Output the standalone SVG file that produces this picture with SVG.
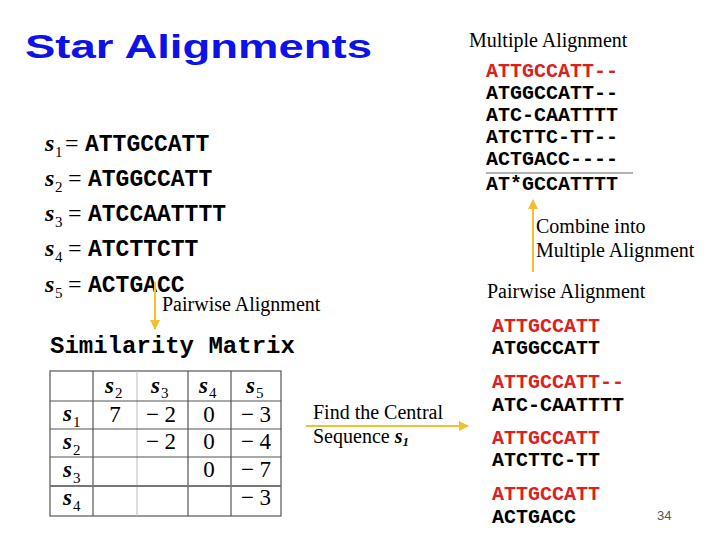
<svg xmlns="http://www.w3.org/2000/svg" width="720" height="540" viewBox="0 0 720 540">
<style>
.title{font-family:"Liberation Sans",Arial,sans-serif;font-weight:bold;fill:#0c12e8}
.ser{font-family:"Liberation Serif","Times New Roman",serif;fill:#000}
.lab{font-family:"Liberation Serif","Times New Roman",serif;font-size:20px;fill:#000}
.s{font-family:"Liberation Serif","Times New Roman",serif;font-weight:bold;font-style:italic;fill:#000}
.sub{font-family:"Liberation Serif","Times New Roman",serif;font-size:15px;fill:#000}
.mono{font-family:"Liberation Mono","Courier New",monospace;font-weight:bold;fill:#000}
.red{fill:#d9221f}
.val{font-family:"Liberation Serif","Times New Roman",serif;font-size:23px;text-anchor:middle;fill:#000}
.arr{stroke:#f0c030;stroke-width:2;fill:none}
.tb{stroke:#555;stroke-width:1.2;fill:none}
</style>
<defs>
<marker id="ah" viewBox="0 0 10 10" refX="9" refY="5" markerWidth="5" markerHeight="5" orient="auto" markerUnits="strokeWidth">
<path d="M0,0 L10,5 L0,10 z" fill="#f0c030"/>
</marker>
</defs>

<g id="title">
<text class="title" x="25" y="58" font-size="33" textLength="347" lengthAdjust="spacingAndGlyphs">Star Alignments</text>
</g>

<g id="sequences">
<text class="s" x="45" y="151" font-size="24">s</text><text class="sub" x="55" y="157">1</text><text class="ser" x="65" y="151" font-size="24">=</text><text class="mono" x="85" y="151" font-size="23">ATTGCCATT</text>
<text class="s" x="45" y="186" font-size="24">s</text><text class="sub" x="55" y="192">2</text><text class="ser" x="68" y="186" font-size="24">=</text><text class="mono" x="88" y="186" font-size="23">ATGGCCATT</text>
<text class="s" x="45" y="221" font-size="24">s</text><text class="sub" x="55" y="227">3</text><text class="ser" x="68" y="221" font-size="24">=</text><text class="mono" x="88" y="221" font-size="23">ATCCAATTTT</text>
<text class="s" x="45" y="256" font-size="24">s</text><text class="sub" x="55" y="262">4</text><text class="ser" x="68" y="256" font-size="24">=</text><text class="mono" x="88" y="256" font-size="23">ATCTTCTT</text>
<text class="s" x="45" y="292" font-size="24">s</text><text class="sub" x="55" y="298">5</text><text class="ser" x="68" y="292" font-size="24">=</text><text class="mono" x="88" y="292" font-size="23">ACTGACC</text>
</g>

<g id="multiple-alignment">
<text class="ser" x="469" y="47" font-size="20">Multiple Alignment</text>
<text class="mono red" x="486" y="77" font-size="20">ATTGCCATT--</text>
<text class="mono" x="486" y="99" font-size="20">ATGGCCATT--</text>
<text class="mono" x="486" y="121" font-size="20">ATC-CAATTTT</text>
<text class="mono" x="486" y="143" font-size="20">ATCTTC-TT--</text>
<text class="mono" x="486" y="165" font-size="20">ACTGACC----</text>
<line x1="486" y1="173" x2="633" y2="173" stroke="#666" stroke-width="1"/>
<text class="mono" x="486" y="190" font-size="20">AT*GCCATTTT</text>
</g>

<g id="similarity-matrix">
<text class="mono" x="50" y="353" font-size="24">Similarity Matrix</text>
<rect class="tb" x="50" y="371" width="231" height="145"/>
<line class="tb" x1="93" y1="371" x2="93" y2="516"/>
<line x1="137" y1="371" x2="137" y2="516" stroke="#bbb" stroke-width="1"/>
<line class="tb" x1="188" y1="371" x2="188" y2="516"/>
<line class="tb" x1="231" y1="371" x2="231" y2="516"/>
<line class="tb" x1="50" y1="401" x2="281" y2="401"/>
<line class="tb" x1="50" y1="429" x2="281" y2="429"/>
<line class="tb" x1="50" y1="457" x2="281" y2="457"/>
<line x1="50" y1="486" x2="281" y2="486" stroke="#777" stroke-width="2"/>
<text class="s" x="105" y="393" font-size="23">s</text><text class="sub" x="115" y="398">2</text>
<text class="s" x="151" y="393" font-size="23">s</text><text class="sub" x="161" y="398">3</text>
<text class="s" x="199" y="393" font-size="23">s</text><text class="sub" x="209" y="398">4</text>
<text class="s" x="246" y="393" font-size="23">s</text><text class="sub" x="256" y="398">5</text>
<text class="s" x="63" y="421" font-size="23">s</text><text class="sub" x="73" y="427">1</text>
<text class="s" x="63" y="449" font-size="23">s</text><text class="sub" x="73" y="455">2</text>
<text class="s" x="63" y="477" font-size="23">s</text><text class="sub" x="73" y="483">3</text>
<text class="s" x="63" y="505" font-size="23">s</text><text class="sub" x="73" y="511">4</text>
<text class="val" x="115" y="422">7</text>
<text class="val" x="161" y="422">− 2</text>
<text class="val" x="209" y="422">0</text>
<text class="val" x="256" y="422">− 3</text>
<text class="val" x="161" y="449">− 2</text>
<text class="val" x="209" y="449">0</text>
<text class="val" x="256" y="449">− 4</text>
<text class="val" x="209" y="477">0</text>
<text class="val" x="256" y="477">− 7</text>
<text class="val" x="256" y="505">− 3</text>
</g>

<g id="pairwise-alignments">
<text class="ser" x="487" y="298" font-size="20">Pairwise Alignment</text>
<text class="mono red" x="492" y="332" font-size="20">ATTGCCATT</text>
<text class="mono" x="492" y="354" font-size="20">ATGGCCATT</text>
<text class="mono red" x="492" y="388" font-size="20">ATTGCCATT--</text>
<text class="mono" x="492" y="411" font-size="20">ATC-CAATTTT</text>
<text class="mono red" x="492" y="444" font-size="20">ATTGCCATT</text>
<text class="mono" x="492" y="466" font-size="20">ATCTTC-TT</text>
<text class="mono red" x="492" y="500" font-size="20">ATTGCCATT</text>
<text class="mono" x="492" y="523" font-size="20">ACTGACC</text>
</g>

<g id="connectors">
<line class="arr" x1="155" y1="282" x2="155" y2="329" marker-end="url(#ah)"/>
<text class="lab" x="162" y="311">Pairwise Alignment</text>
<line class="arr" x1="533" y1="272" x2="533" y2="200" marker-end="url(#ah)"/>
<text class="lab" x="536" y="233">Combine into</text>
<text class="lab" x="536" y="257">Multiple Alignment</text>
<line class="arr" x1="306" y1="426" x2="468" y2="426" marker-end="url(#ah)"/>
<text class="lab" x="313" y="419">Find the Central</text>
<text class="lab" x="313" y="443">Sequence <tspan font-weight="bold" font-style="italic">s</tspan><tspan font-weight="bold" font-style="italic" font-size="13" dy="3">1</tspan></text>
</g>

<g id="page-number">
<text x="657" y="520" font-family="Liberation Sans,Arial,sans-serif" font-size="13" fill="#555">34</text>
</g>
</svg>
